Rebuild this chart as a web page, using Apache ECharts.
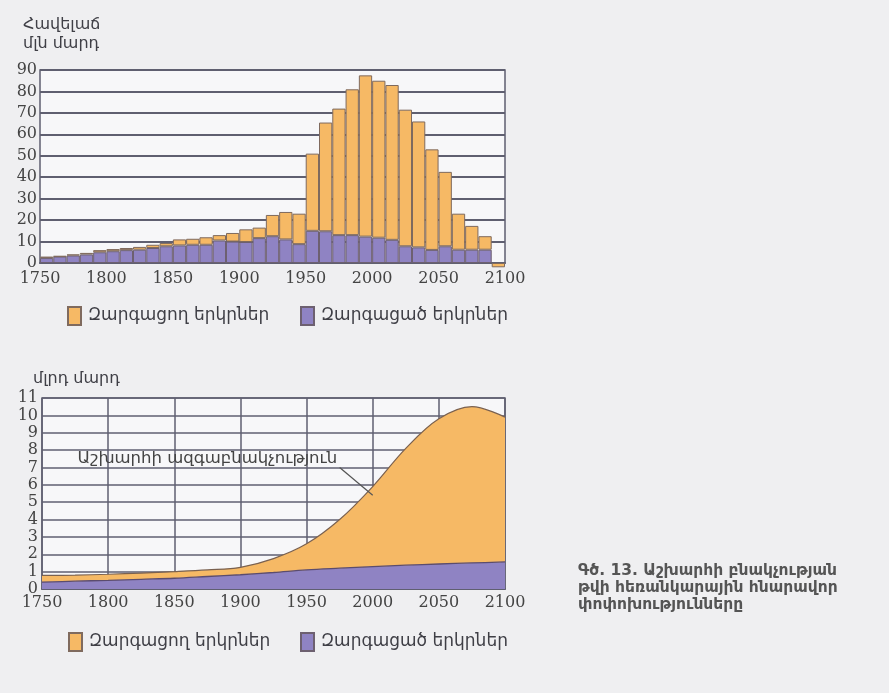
<!DOCTYPE html>
<html><head><meta charset="utf-8">
<script src="https://cdn.jsdelivr.net/npm/echarts@6/dist/echarts.min.js"></script>
<style>html,body{margin:0;padding:0;background:#efeff1}#c{width:889px;height:693px}</style>
</head><body><div id="c"></div><script>
// ---- Top chart: population increment per decade (million people)
const decades = [1750,1760,1770,1780,1790,1800,1810,1820,1830,1840,1850,1860,1870,1880,1890,1900,1910,1920,1930,1940,1950,1960,1970,1980,1990,2000,2010,2020,2030,2040,2050,2060,2070,2080,2090];
const incDeveloped = [2.3,3.0,3.5,4.0,5.0,5.5,6.0,6.2,7.0,7.8,8.2,8.5,8.5,10.5,10.0,9.8,11.6,12.5,11.0,8.8,15.0,14.8,13.0,13.0,12.3,11.8,10.8,7.8,7.3,6.1,7.8,6.2,6.2,6.2,null];
const incDeveloping = [0.7,0.2,0.5,0.7,1.0,1.0,1.0,1.3,1.5,1.5,2.8,2.8,3.5,2.5,4.0,5.9,4.9,9.9,12.8,14.2,36.0,50.7,59.0,68.0,75.2,73.2,72.2,63.7,58.7,46.9,34.7,16.8,11.1,6.3,-2.0];
const incTicks = [0,10,20,30,40,50,60,70,80,90];
// ---- Bottom chart: world population (billion people)
const popYears = [1750,1775,1800,1825,1850,1875,1900,1925,1950,1975,2000,2025,2050,2075,2100];
const popDeveloped = [0.40,0.45,0.50,0.56,0.62,0.72,0.82,0.95,1.10,1.20,1.29,1.37,1.44,1.50,1.56];
const popDeveloping = [0.38,0.35,0.35,0.36,0.38,0.38,0.43,0.80,1.50,2.80,4.61,6.73,8.36,9.00,8.34];
const popTicks = [0,1,2,3,4,5,6,7,8,9,10,11];
const yearTicks = [1750,1800,1850,1900,1950,2000,2050,2100];

const NAME_DEV = 'Զարգացած երկրներ';
const NAME_DEVING = 'Զարգացող երկրներ';
const ORANGE = '#f6b965', PURPLE = '#8f83c3';
const GRID = '#5f5f70';
const NUMFONT = 'DejaVu Serif';
const TXTFONT = 'DejaVu Sans';
const TXTCOLOR = '#3f3f46';

const chart = echarts.init(document.getElementById('c'));
const legendCommon = {icon:'rect', itemWidth:13, itemHeight:18, itemGap:0, selectedMode:false,
  textStyle:{fontFamily:TXTFONT, fontSize:17, color:TXTCOLOR, padding:[0,0,0,2]}};
const numLabel = {fontFamily:NUMFONT, fontSize:16, color:'#444'};

chart.setOption({
  backgroundColor:'#efeff1',
  animation:false,
  grid:[
    {left:40, right:384, top:70, bottom:430, show:true, backgroundColor:'#f7f7f9', borderColor:GRID, borderWidth:1.5},
    {left:42, right:384, top:398, bottom:104, show:true, backgroundColor:'#f7f7f9', borderColor:GRID, borderWidth:1.5}
  ],
  xAxis:[
    {gridIndex:0, type:'category', data:decades, boundaryGap:true, position:'bottom',
     axisLine:{show:true, lineStyle:{color:GRID, width:2}}, axisTick:{show:false}, splitLine:{show:false},
     axisLabel:{show:false}},
    {gridIndex:0, type:'value', min:1750, max:2100, interval:50, position:'bottom',
     axisLine:{show:false}, axisTick:{show:false}, splitLine:{show:false},
     axisLabel:Object.assign({margin:8, formatter:v=>yearTicks.includes(v)?String(v):''}, numLabel)},
    {gridIndex:1, type:'category', data:popYears, boundaryGap:false,
     axisLine:{show:true, lineStyle:{color:GRID, width:2}}, axisTick:{show:false},
     splitLine:{show:true, interval:1, lineStyle:{color:GRID, width:1.5}},
     axisLabel:Object.assign({margin:6, interval:1}, numLabel)}
  ],
  yAxis:[
    {gridIndex:0, type:'value', min:0, max:90, interval:10,
     axisLine:{show:false}, axisTick:{show:false},
     splitLine:{show:true, lineStyle:{color:GRID, width:2}},
     axisLabel:Object.assign({margin:3, formatter:v=>incTicks.includes(v)?String(v):''}, numLabel)},
    {gridIndex:1, type:'value', min:0, max:11, interval:1,
     axisLine:{show:false}, axisTick:{show:false},
     splitLine:{show:true, lineStyle:{color:GRID, width:1.5}},
     axisLabel:Object.assign({margin:4, formatter:v=>popTicks.includes(v)?String(v):''}, numLabel)}
  ],
  legend:[
    Object.assign({}, legendCommon, {left:62, top:301, data:[NAME_DEVING]}),
    Object.assign({}, legendCommon, {left:295, top:301, data:[NAME_DEV]}),
    Object.assign({}, legendCommon, {left:63, top:627, data:[NAME_DEVING]}),
    Object.assign({}, legendCommon, {left:295, top:627, data:[NAME_DEV]})
  ],
  series:[
    {name:NAME_DEV, type:'bar', xAxisIndex:0, yAxisIndex:0, stack:'inc', clip:false,
     barCategoryGap:'0%', barGap:'0%',
     itemStyle:{color:PURPLE, borderColor:'#6d6070', borderWidth:1},
     data:incDeveloped},
    {name:NAME_DEVING, type:'bar', xAxisIndex:0, yAxisIndex:0, stack:'inc', clip:false,
     barCategoryGap:'0%', barGap:'0%',
     itemStyle:{color:ORANGE, borderColor:'#7f6a5e', borderWidth:1},
     data:incDeveloping},
    {name:NAME_DEV, type:'line', xAxisIndex:2, yAxisIndex:1, stack:'pop', smooth:0.35, symbol:'none',
     lineStyle:{color:'#5b4c6e', width:1.3}, itemStyle:{color:PURPLE, borderColor:'#6d6070', borderWidth:1},
     areaStyle:{color:PURPLE, opacity:1},
     data:popDeveloped},
    {name:NAME_DEVING, type:'line', xAxisIndex:2, yAxisIndex:1, stack:'pop', smooth:0.35, symbol:'none',
     lineStyle:{color:'#7a6150', width:1.2}, itemStyle:{color:ORANGE, borderColor:'#7f6a5e', borderWidth:1},
     areaStyle:{color:ORANGE, opacity:1},
     data:popDeveloping}
  ]
});
// annotation label and leader line, placed in data space of the bottom chart
const p1 = chart.convertToPixel({xAxisIndex:2, yAxisIndex:1}, [popYears.indexOf(1850) + 0.8, 7.5]);
const a0 = chart.convertToPixel({xAxisIndex:2, yAxisIndex:1}, [popYears.indexOf(1950) + 0.72, 7.0]);
const a1 = chart.convertToPixel({xAxisIndex:2, yAxisIndex:1}, [popYears.indexOf(2000) - 0.2, 5.4]);
chart.setOption({graphic:[
  {type:'text', left:23, top:15, style:{text:'Հավելաճ\nմլն մարդ', fontFamily:TXTFONT, fontSize:16, fill:TXTCOLOR, lineHeight:19}},
  {type:'text', left:33, top:371, style:{text:'մլրդ մարդ', fontFamily:TXTFONT, fontSize:16, fill:TXTCOLOR}},
  {type:'text', left:578, top:562, style:{text:'Գծ. 13. Աշխարհի բնակչության\nթվի հեռանկարային հնարավոր\nփոփոխությունները', fontFamily:TXTFONT, fontSize:15.5, fontWeight:'bold', fill:'#555', lineHeight:17}},
  {type:'text', x:p1[0], y:p1[1], style:{text:'Աշխարհի ազգաբնակչություն', fontFamily:TXTFONT, fontSize:16.5, fill:'#444', align:'center', verticalAlign:'middle'}, z:10},
  {type:'line', shape:{x1:a0[0], y1:a0[1], x2:a1[0], y2:a1[1]}, style:{stroke:'#555', lineWidth:1.2}, z:10}
]});
</script></body></html>
